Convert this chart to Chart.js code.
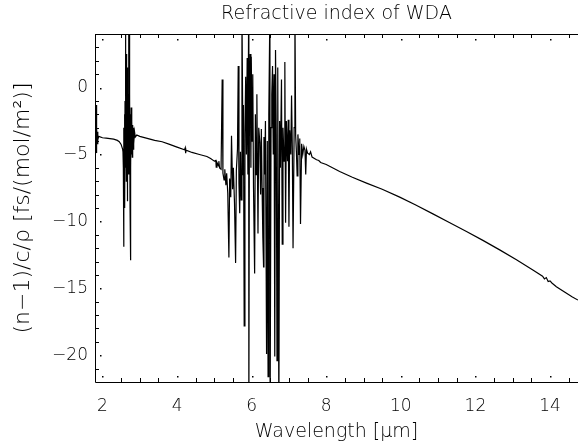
<!DOCTYPE html>
<html>
<head>
<meta charset="utf-8">
<script src="https://cdn.jsdelivr.net/npm/chart.js@4.4.1/dist/chart.umd.min.js"></script>
<style>
  html, body { margin: 0; padding: 0; background: #fff; }
  canvas { display: block; }
</style>
</head>
<body>
<canvas id="myChart" width="578" height="446"></canvas>
<script>
// wavelength in micrometres and (n-1)/c/rho
var wavelength = [
  1.80, 1.82, 1.83, 1.835, 1.84, 1.845, 1.85, 1.86, 1.87, 1.88, 1.90,
  2.00, 2.10, 2.20, 2.30, 2.40, 2.45, 2.50, 2.54,
  2.55, 2.56, 2.57, 2.575, 2.58, 2.59, 2.60, 2.605, 2.61, 2.62, 2.625, 2.63, 2.64,
  2.645, 2.65, 2.66, 2.665, 2.67, 2.68, 2.69, 2.70, 2.705, 2.71, 2.72, 2.725, 2.73,
  2.74, 2.75, 2.755, 2.76, 2.77, 2.78, 2.79, 2.80, 2.81, 2.82, 2.83, 2.845, 2.86,
  2.88, 2.92,
  3.00, 3.20, 3.40, 3.60, 3.80, 4.00, 4.20, 4.22, 4.23, 4.24, 4.40, 4.60, 4.80, 4.90,
  5.00, 5.04, 5.05, 5.07, 5.11, 5.12, 5.14, 5.18,
  5.21, 5.23, 5.26, 5.28, 5.31, 5.33, 5.36, 5.39, 5.41, 5.44, 5.46, 5.49, 5.51, 5.54,
  5.57, 5.59, 5.62, 5.64, 5.66, 5.68, 5.70, 5.72, 5.74, 5.77, 5.78, 5.80, 5.82, 5.84,
  5.86, 5.88, 5.90, 5.92, 5.925, 5.94, 5.96, 5.98, 5.99, 6.01, 6.03, 6.05, 6.08, 6.10,
  6.12, 6.14, 6.17, 6.19, 6.22, 6.24, 6.26, 6.28, 6.30, 6.32, 6.33, 6.35, 6.37, 6.40,
  6.42, 6.44, 6.46, 6.49, 6.495, 6.52, 6.54, 6.56, 6.58, 6.60, 6.62, 6.64, 6.66, 6.68,
  6.70, 6.73, 6.75, 6.77, 6.80, 6.82, 6.84, 6.87, 6.89, 6.91, 6.93, 6.96, 6.98, 7.00,
  7.02, 7.05, 7.07, 7.09, 7.11, 7.14, 7.16, 7.18, 7.20, 7.22, 7.24, 7.27, 7.29, 7.31,
  7.34, 7.37, 7.40, 7.43, 7.45, 7.47,
  7.50, 7.55, 7.58, 7.62, 7.74, 7.80, 7.85, 8.00, 8.36, 8.70, 9.08, 9.50, 9.97,
  10.40, 10.86, 11.30, 11.76, 12.20, 12.65, 13.10, 13.54, 13.80, 13.85, 13.90,
  13.95, 14.00, 14.05, 14.17, 14.40, 14.60, 14.75
];
var refractivity = [
  -3.6, -3.7, -1.3, -4.9, -2.4, -4.6, -3.0, -4.2, -3.3, -3.9, -3.65,
  -3.75, -3.78, -3.82, -3.86, -3.95, -4.05, -4.25, -4.6,
  -4.8, -6.0, -11.9, -3.0, -7.5, -2.0, -9.0, -1.0, -6.0, 6.0, -4.5, 1.0, -7.0,
  2.5, -5.5, 0.0, -8.5, 1.5, -3.0, -0.5, 6.0, -6.5, 1.5, 6.0, -4.0, -0.5,
  -9.0, -12.9, -2.0, -6.0, -1.5, -5.0, -2.5, -5.2, -2.8, -4.6, -3.0, -4.2, -3.3,
  -3.7, -3.55,
  -3.65, -3.8, -3.95, -4.05, -4.25, -4.45, -4.65, -4.5, -4.9, -4.68, -4.85, -5.0, -5.15, -5.3,
  -5.5, -5.45, -5.95, -5.6, -5.85, -5.5, -6.0, -6.1,
  0.6, -6.4, -6.9, -6.1, -7.3, -6.4, -7.9, -12.7, -6.8, -8.2, -3.6, -7.6, -6.0, -8.6,
  -13.1, -6.2, -4.6, 1.6, -7.2, -9.4, -4.8, -8.4, 6.0, -6.5, -1.3, -17.8, -3.5, 0.8,
  -5.0, 2.2, -6.5, 6.0, -25.0, -2.0, 2.5, -6.0, 2.3, -4.0, 1.0, -7.5, -13.9, -2.0,
  -6.5, -0.5, -10.9, -3.0, -4.1, -8.0, -3.1, -7.5, -11.2, -13.4, -3.7, -6.5, -2.5, -19.9,
  -4.0, -21.6, -2.0, 6.0, -25.0, -3.0, -0.5, 1.6, -5.0, 1.0, -20.1, 2.8, -3.5, -20.4,
  1.5, -25.0, -2.5, -6.0, 0.6, -11.7, -3.0, -5.5, 1.9, -10.1, -2.5, -5.5, -2.4, -10.4,
  -3.2, -5.0, -0.6, -4.5, -12.0, -3.0, 6.0, -3.6, -4.8, -6.6, -3.5, -5.0, -3.8, -10.2,
  -4.2, -5.0, -4.4, -4.7, -6.5, -4.6,
  -4.9, -5.0, -4.8, -5.2, -5.4, -5.45, -5.6, -5.75, -6.27, -6.7, -7.14, -7.6, -8.19,
  -8.78, -9.44, -10.08, -10.76, -11.42, -12.13, -12.86, -13.63, -14.1, -14.3, -14.2,
  -14.5, -14.45, -14.6, -14.88, -15.3, -15.65, -15.88
];
var xTicks = [2, 4, 6, 8, 10, 12, 14];
var yTicks = [-20, -15, -10, -5, 0];

var FONT = '"DejaVu Sans"';
var W = '200';

var points = wavelength.map(function (w, i) { return { x: w, y: refractivity[i] }; });

function minus(v) { return String(v).replace('-', '\u2212'); }

// IDL style box: frame, inward minor ticks, dotted major ticks, title above plot
var idlFrame = {
  id: 'idlFrame',
  afterDraw: function (chart) {
    var c = chart.ctx, a = chart.chartArea;
    var sx = chart.scales.x, sy = chart.scales.y;
    c.save();
    c.strokeStyle = '#000';
    c.fillStyle = '#000';
    c.lineWidth = 1;
    c.beginPath();
    c.moveTo(a.right + 1, a.top + 0.5);
    c.lineTo(a.left + 0.5, a.top + 0.5);
    c.lineTo(a.left + 0.5, a.bottom + 0.5);
    c.lineTo(a.right + 1, a.bottom + 0.5);
    for (var v = 2; v <= 14.75; v += 0.5) {
      var px = Math.round(sx.getPixelForValue(v)) + 0.5;
      if (v % 2 === 0) {
        c.fillRect(px - 0.5, a.bottom - 6, 1.5, 1.5);
        c.fillRect(px - 0.5, a.top + 5, 1.5, 1.5);
      } else {
        c.moveTo(px, a.bottom); c.lineTo(px, a.bottom - 4);
        c.moveTo(px, a.top); c.lineTo(px, a.top + 4);
      }
    }
    for (var w = -21; w <= 4; w += 1) {
      var py = Math.round(sy.getPixelForValue(w)) + 0.5;
      if (w % 5 === 0) {
        c.fillRect(a.left + 5, py - 0.5, 1.5, 1.5);
      } else {
        c.moveTo(a.left, py); c.lineTo(a.left + 4, py);
      }
    }
    c.stroke();
    c.font = W + ' 19px ' + FONT;
    c.textAlign = 'center';
    c.textBaseline = 'middle';
    c.fillText('Refractive index of WDA', (a.left + a.right) / 2, 14);
    c.restore();
  }
};

var ctx = document.getElementById('myChart').getContext('2d');
var chart = new Chart(ctx, {
  type: 'scatter',
  data: {
    datasets: [{
      data: points,
      showLine: true,
      borderColor: '#000',
      borderWidth: 1.2,
      pointRadius: 0,
      tension: 0
    }]
  },
  options: {
    responsive: false,
    animation: false,
    layout: { padding: { top: 34, right: 0, left: 0, bottom: 0 } },
    plugins: { legend: { display: false }, tooltip: { enabled: false } },
    scales: {
      x: {
        type: 'linear',
        min: 1.8,
        max: 14.75,
        afterFit: function (s) { s.height = 64; },
        afterBuildTicks: function (s) { s.ticks = xTicks.map(function (v) { return { value: v }; }); },
        grid: { display: false, drawTicks: false },
        border: { display: false },
        ticks: { color: '#000', padding: 14, font: { family: FONT, size: 17, weight: W }, maxRotation: 0 },
        title: {
          display: true,
          text: 'Wavelength [\u03bcm]',
          color: '#000',
          padding: { top: 0, bottom: 3 },
          font: { family: FONT, size: 19, weight: W }
        }
      },
      y: {
        type: 'linear',
        min: -22,
        max: 4,
        afterFit: function (s) { s.width = 95; },
        afterBuildTicks: function (s) { s.ticks = yTicks.map(function (v) { return { value: v }; }); },
        grid: { display: false, drawTicks: false },
        border: { display: false },
        ticks: {
          color: '#000', padding: 7,
          font: { family: FONT, size: 17, weight: W },
          callback: function (v) { return minus(v); }
        },
        title: {
          display: true,
          text: '(n\u22121)/c/\u03c1 [fs/(mol/m\u00b2)]',
          color: '#000',
          padding: { top: 10, bottom: 0 },
          font: { family: FONT, size: 22, weight: W }
        }
      }
    }
  },
  plugins: [idlFrame]
});
</script>
</body>
</html>
